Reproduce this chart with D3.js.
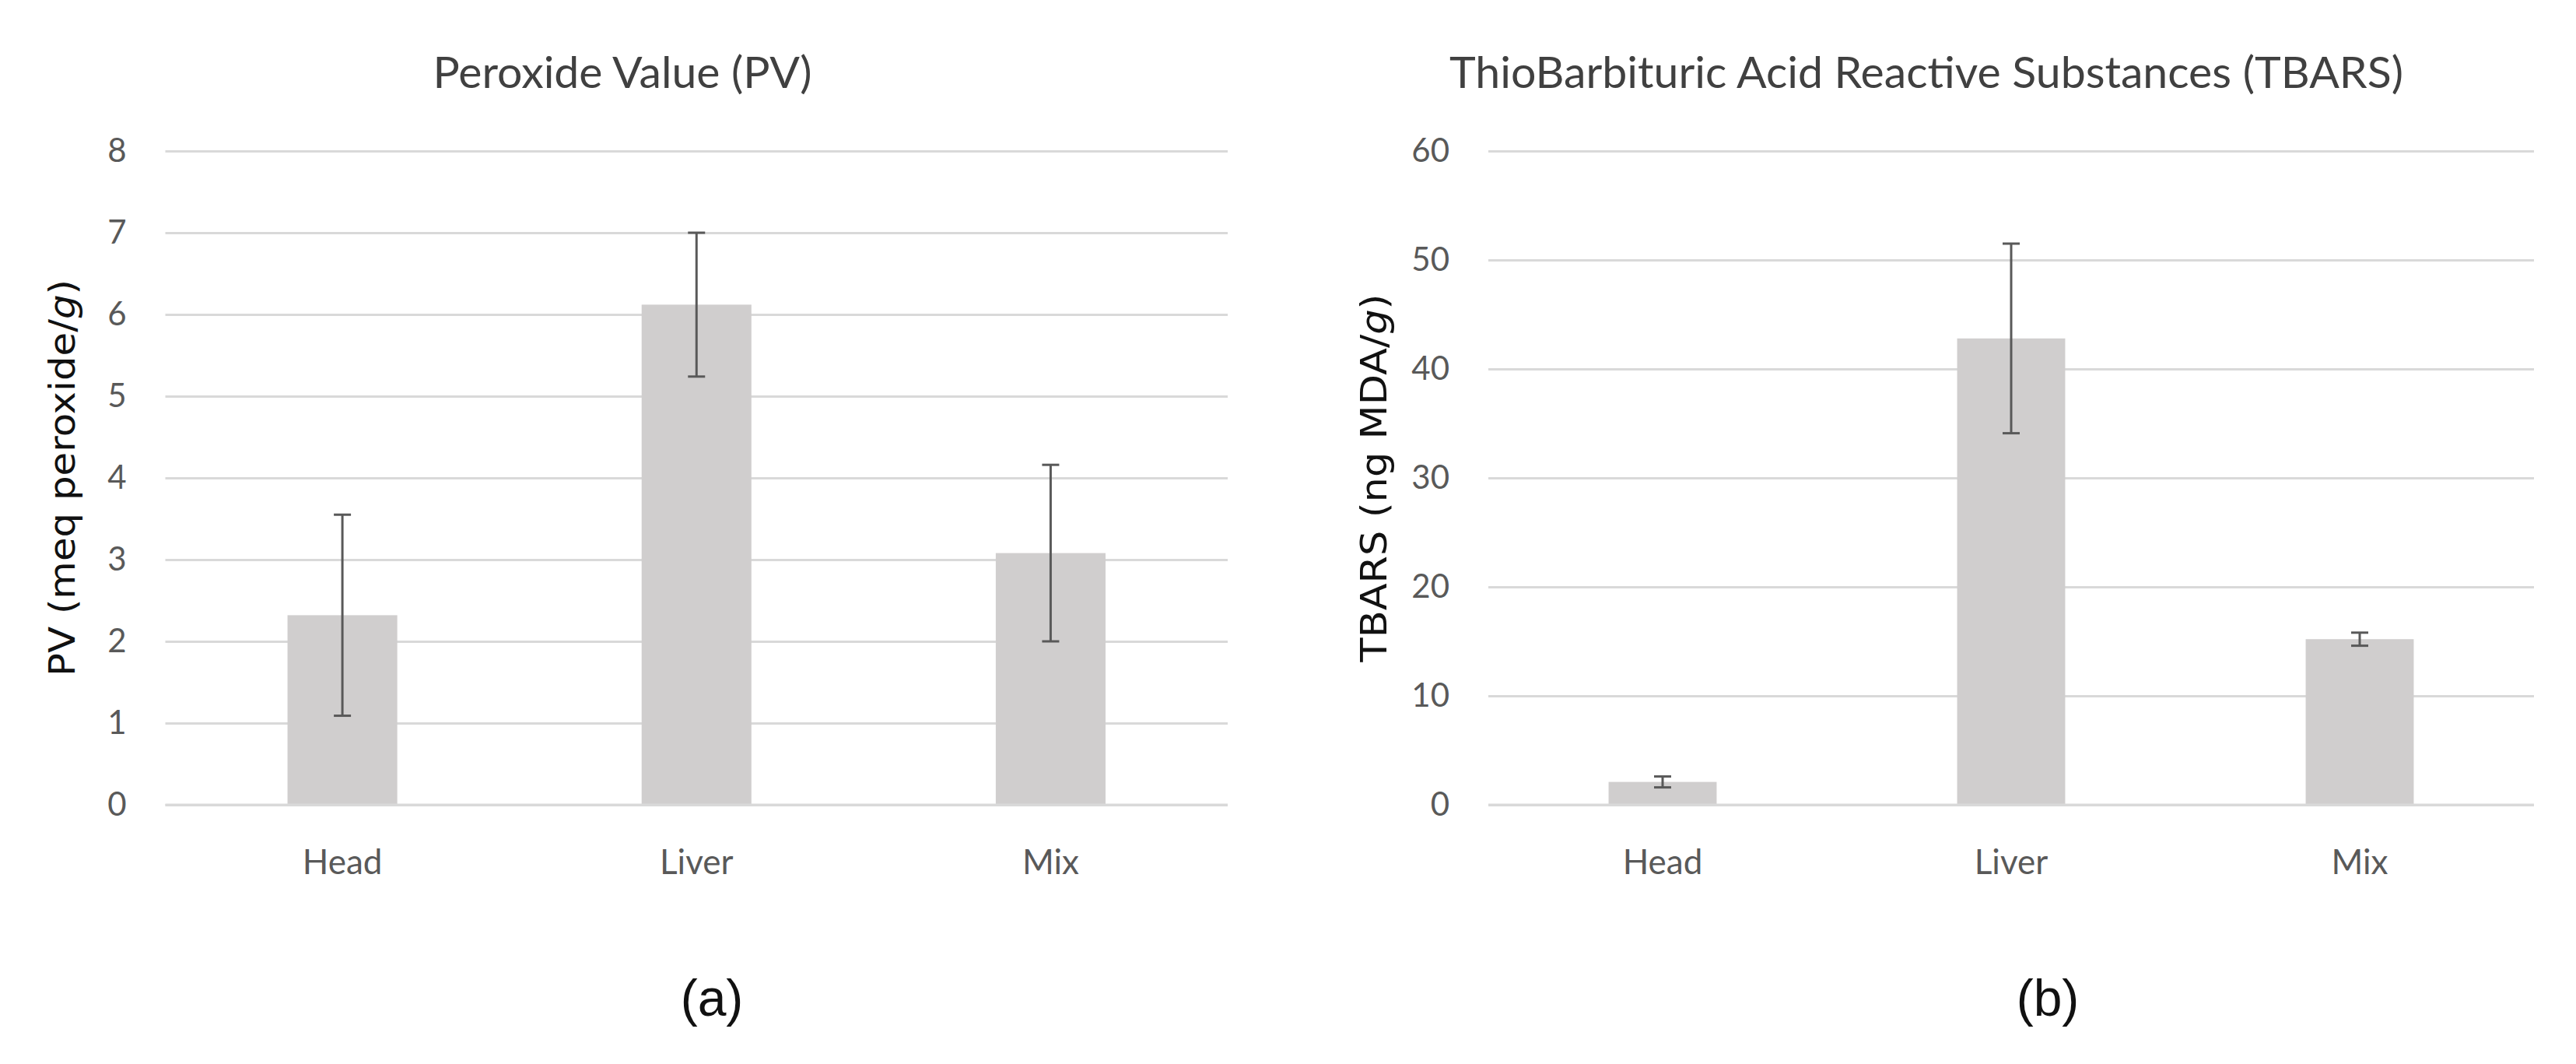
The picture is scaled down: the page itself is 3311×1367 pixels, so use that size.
<!DOCTYPE html>
<html>
<head>
<meta charset="utf-8">
<script src="https://cdn.jsdelivr.net/npm/d3@7"></script>
<style>
  html, body { margin: 0; padding: 0; background: #ffffff; }
  svg { display: block; }
</style>
</head>
<body>
<svg id="chart" width="3311" height="1367"></svg>
<script>
// ---- data ----
const categories = ["Head", "Liver", "Mix"];
const pvMeans = [2.32, 6.12, 3.08];
const pvErrors = [1.23, 0.88, 1.08];
const tbarsMeans = [2.1, 42.8, 15.2];
const tbarsErrors = [0.5, 8.7, 0.6];
const pvTicks = [0, 1, 2, 3, 4, 5, 6, 7, 8];
const tbarsTicks = [0, 10, 20, 30, 40, 50, 60];
const titles = ["Peroxide Value (PV)", "ThioBarbituric Acid Reactive Substances (TBARS)"];
const yLabels = [["PV (meq peroxide/", "g", ")"], ["TBARS (ng MDA/", "g", ")"]];
const panelLabels = ["(a)", "(b)"];

const svg = d3.select("#chart");
const labelFont = "Lato, 'Open Sans', sans-serif";

const panels = [
  { means: pvMeans, errs: pvErrors, ticks: pvTicks, max: 8, title: titles[0], ylab: yLabels[0], tag: panelLabels[0],
    x0: 212.5, x1: 1578, titleX: 800, titleW: 487, ylabX: 80, ylabW: 510, tagX: 915 },
  { means: tbarsMeans, errs: tbarsErrors, ticks: tbarsTicks, max: 60, title: titles[1], ylab: yLabels[1], tag: panelLabels[1],
    x0: 1913, x1: 3257, titleX: 2476, titleW: 1226, ylabX: 1766, ylabW: 473, tagX: 2632 }
];

const yTop = 194, yBottom = 1034;

panels.forEach(p => {
  const g = svg.append("g");
  const x = d3.scaleBand().domain(categories).range([p.x0, p.x1]).paddingInner(0.69).paddingOuter(0.345);
  const y = d3.scaleLinear().domain([0, p.max]).range([yBottom, yTop]);

  // gridlines
  const yAxis = d3.axisLeft(y).tickValues(p.ticks).tickSize(-(p.x1 - p.x0)).tickPadding(50);
  const ga = g.append("g").attr("transform", `translate(${p.x0},0)`).call(yAxis);
  ga.select(".domain").remove();
  ga.selectAll(".tick line").attr("stroke", "#d9d9d9").attr("stroke-width", 3);
  ga.selectAll(".tick text")
    .attr("font-family", labelFont).attr("font-size", 42).attr("fill", "#595959");

  // bars
  g.selectAll("rect.bar").data(p.means).join("rect")
    .attr("class", "bar")
    .attr("x", (d, i) => x(categories[i]))
    .attr("width", x.bandwidth())
    .attr("y", d => y(d))
    .attr("height", d => y(0) - y(d))
    .attr("fill", "#d0cece");

  // axis line at zero
  g.append("line").attr("x1", p.x0).attr("x2", p.x1).attr("y1", y(0)).attr("y2", y(0))
    .attr("stroke", "#d9d9d9").attr("stroke-width", 3);

  // error bars
  const cap = 11;
  const eb = g.selectAll("g.err").data(p.means).join("g").attr("class", "err");
  eb.append("line")
    .attr("x1", (d, i) => x(categories[i]) + x.bandwidth() / 2)
    .attr("x2", (d, i) => x(categories[i]) + x.bandwidth() / 2)
    .attr("y1", (d, i) => y(d + p.errs[i]))
    .attr("y2", (d, i) => y(d - p.errs[i]))
    .attr("stroke", "#595959").attr("stroke-width", 3);
  [1, -1].forEach(s => {
    eb.append("line")
      .attr("x1", (d, i) => x(categories[i]) + x.bandwidth() / 2 - cap)
      .attr("x2", (d, i) => x(categories[i]) + x.bandwidth() / 2 + cap)
      .attr("y1", (d, i) => y(d + s * p.errs[i]))
      .attr("y2", (d, i) => y(d + s * p.errs[i]))
      .attr("stroke", "#595959").attr("stroke-width", 3);
  });

  // category axis
  const xAxis = d3.axisBottom(x).tickSize(0).tickPadding(58);
  const gx = g.append("g").attr("transform", `translate(0,${yBottom})`).call(xAxis);
  gx.select(".domain").remove();
  gx.selectAll(".tick text").attr("font-family", labelFont).attr("font-size", 44).attr("fill", "#595959");

  // title
  g.append("text").attr("x", p.titleX).attr("y", 113).attr("text-anchor", "middle")
    .attr("font-family", labelFont).attr("font-size", 56).attr("fill", "#404040")
    .attr("textLength", p.titleW).attr("lengthAdjust", "spacingAndGlyphs")
    .text(p.title);

  // y label
  const yl = g.append("text")
    .attr("transform", `translate(${p.ylabX + 16},${(yTop + yBottom) / 2}) rotate(-90)`)
    .attr("text-anchor", "middle")
    .attr("font-family", "'DejaVu Sans', sans-serif").attr("font-size", 46).attr("fill", "#111")
    .attr("textLength", p.ylabW).attr("lengthAdjust", "spacingAndGlyphs");
  yl.append("tspan").text(p.ylab[0]);
  yl.append("tspan").attr("font-style", "italic").text(p.ylab[1]);
  yl.append("tspan").text(p.ylab[2]);

  // panel tag
  svg.append("text").attr("x", p.tagX).attr("y", 1305).attr("text-anchor", "middle")
    .attr("font-family", "'Liberation Sans', Arial, sans-serif").attr("font-size", 66).attr("fill", "#111")
    .text(p.tag);
});
</script>
</body>
</html>
